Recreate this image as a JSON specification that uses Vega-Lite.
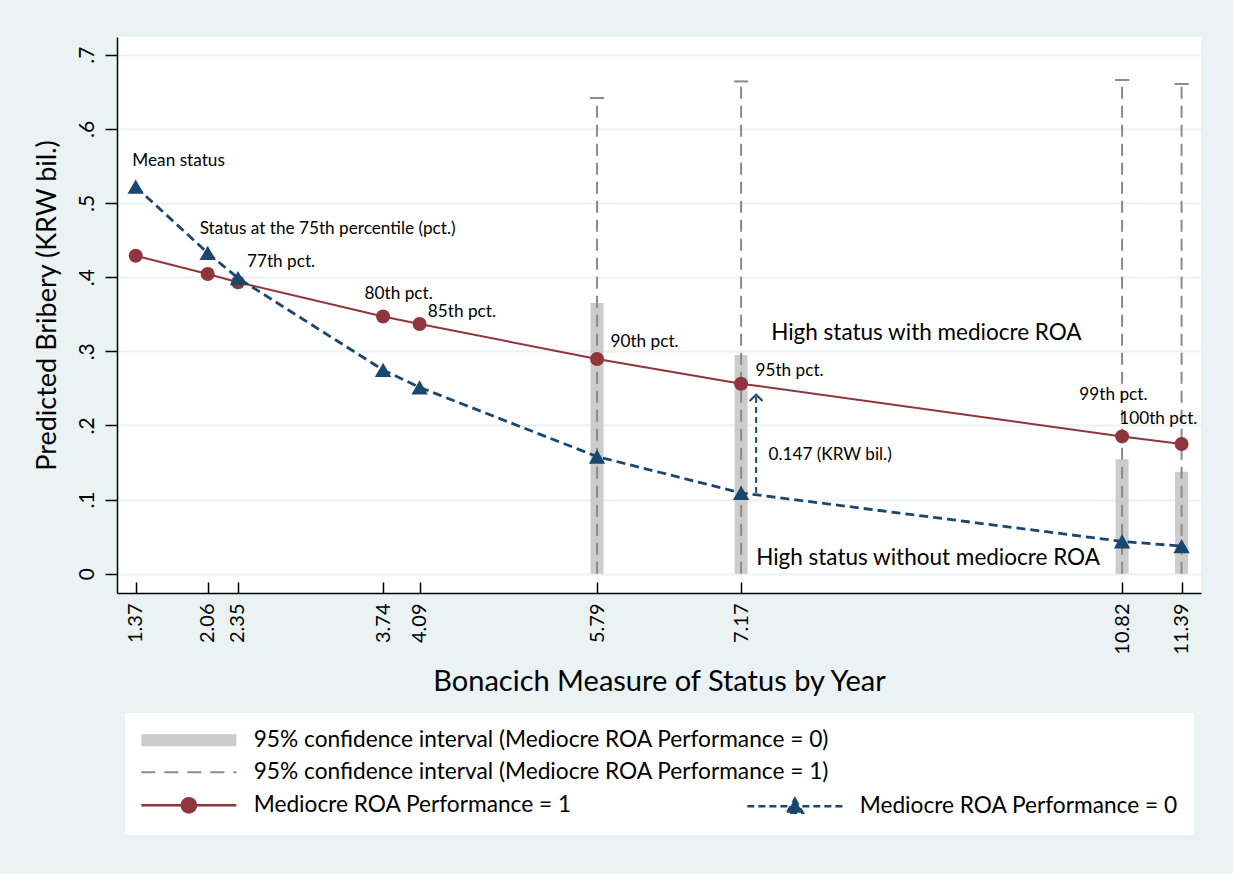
{
  "$schema": "https://vega.github.io/schema/vega-lite/v6.json",
  "width": 1084,
  "height": 556,
  "autosize": {"type": "none"},
  "padding": {"left": 117, "top": 37, "right": 32, "bottom": 281},
  "background": "#EAF2F3",
  "config": {
    "view": {"fill": "white", "stroke": null},
    "font": "Lato",
    "axis": {"labelFont": "Lato", "titleFont": "Lato", "labelColor": "black", "titleColor": "black", "titleFontWeight": "normal"},
    "text": {"font": "Lato"}
  },
  "datasets": {
    "pts": [
      {"x": 1.37, "m1": 0.4289, "m0": 0.522},
      {"x": 2.06, "m1": 0.4042, "m0": 0.4326},
      {"x": 2.35, "m1": 0.393, "m0": 0.3988},
      {"x": 3.74, "m1": 0.347, "m0": 0.2748},
      {"x": 4.09, "m1": 0.3368, "m0": 0.2514},
      {"x": 5.79, "m1": 0.2896, "m0": 0.158},
      {"x": 7.17, "m1": 0.2563, "m0": 0.109},
      {"x": 10.82, "m1": 0.1852, "m0": 0.0436},
      {"x": 11.39, "m1": 0.175, "m0": 0.0372}
    ],
    "ci": [
      {"x": 5.79, "lo0": 0, "hi0": 0.3651, "lo1": 0, "hi1": 0.6416},
      {"x": 7.17, "lo0": 0, "hi0": 0.295, "lo1": 0, "hi1": 0.664},
      {"x": 10.82, "lo0": 0, "hi0": 0.1543, "lo1": 0, "hi1": 0.6659},
      {"x": 11.39, "lo0": 0, "hi0": 0.1376, "lo1": 0, "hi1": 0.6605}
    ],
    "arrow": [
      {"x": 7.314, "y0": 0.109, "y1": 0.2414}
    ],
    "labels": [
      {"x": 1.338, "y": 0.557, "text": "Mean status", "kind": "small"},
      {"x": 1.983, "y": 0.4645, "text": "Status at the 75th percentile (pct.)", "kind": "small"},
      {"x": 2.436, "y": 0.4208, "text": "77th pct.", "kind": "small"},
      {"x": 3.563, "y": 0.3773, "text": "80th pct.", "kind": "small"},
      {"x": 4.169, "y": 0.3526, "text": "85th pct.", "kind": "small"},
      {"x": 5.919, "y": 0.3125, "text": "90th pct.", "kind": "small"},
      {"x": 7.308, "y": 0.2738, "text": "95th pct.", "kind": "small"},
      {"x": 10.41, "y": 0.241, "text": "99th pct.", "kind": "small"},
      {"x": 10.793, "y": 0.2087, "text": "100th pct.", "kind": "small"},
      {"x": 7.432, "y": 0.1601, "text": "0.147 (KRW bil.)", "kind": "small"},
      {"x": 7.458, "y": 0.3247, "text": "High status with mediocre ROA", "kind": "large"},
      {"x": 7.314, "y": 0.0212, "text": "High status without mediocre ROA", "kind": "large"}
    ]
  },
  "layer": [
    {
      "data": {"name": "ci"},
      "mark": {"type": "rule", "strokeWidth": 13, "strokeCap": "butt"},
      "encoding": {
        "x": {
          "field": "x", "type": "quantitative",
          "scale": {"domain": [1.191, 11.576], "nice": false, "zero": false},
          "title": "Bonacich Measure of Status by Year",
          "axis": {
            "values": [1.37, 2.06, 2.35, 3.74, 4.09, 5.79, 7.17, 10.82, 11.39],
            "labelExpr": "format(datum.value, '.2f')",
            "labelAngle": 270, "labelAlign": "right", "labelBaseline": "middle",
            "labelFontSize": 20, "labelPadding": 21,
            "tickSize": -11, "tickColor": "black", "tickWidth": 1.5,
            "domainColor": "black", "domainWidth": 1.5, "grid": false,
            "titleFontSize": 29, "titleY": 97, "titleBaseline": "alphabetic"
          }
        },
        "y": {
          "field": "lo0", "type": "quantitative",
          "scale": {"domain": [-0.02603, 0.7239], "nice": false, "zero": false},
          "title": "Predicted Bribery (KRW bil.)",
          "axis": {
            "values": [0, 0.1, 0.2, 0.3, 0.4, 0.5, 0.6, 0.7],
            "labelExpr": "datum.value == 0 ? '0' : replace(format(datum.value, '.1f'), '0.', '.')",
            "labelAngle": 270, "labelAlign": "center", "labelBaseline": "alphabetic",
            "labelFontSize": 21, "labelPadding": 12,
            "tickSize": 12, "tickColor": "black", "tickWidth": 1.5,
            "domainColor": "black", "domainWidth": 1.5,
            "grid": true, "gridColor": "#EAF2F3", "gridWidth": 2,
            "titleFontSize": 27, "titleAngle": 270, "titleX": -62, "titleY": 268,
            "titleBaseline": "alphabetic", "titleAlign": "center"
          }
        },
        "y2": {"field": "hi0"},
        "color": {
          "datum": "ci0", "type": "nominal",
          "scale": {
            "domain": ["ci0", "b1", "ci1", "b2", "m1", "m0"],
            "range": ["#cccccc", "#ffffff", "#8a8a8a", "#ffffff", "#90353B", "#1A476F"]
          },
          "legend": {
            "orient": "none", "legendX": 8, "legendY": 676, "direction": "horizontal",
            "columns": 2, "gridAlign": "none", "columnPadding": -88, "rowPadding": 8,
            "padding": 16, "fillColor": "white", "title": null,
            "symbolSize": 400, "symbolStrokeWidth": 2, "symbolOffset": 0,
            "labelOffset": 90, "labelFont": "Lato", "labelFontSize": 22.7, "labelColor": "black", "labelLimit": 1000,
            "labelExpr": "datum.value == 'ci0' ? '95% confidence interval (Mediocre ROA Performance = 0)' : datum.value == 'ci1' ? '95% confidence interval (Mediocre ROA Performance = 1)' : datum.value == 'm1' ? 'Mediocre ROA Performance = 1' : datum.value == 'm0' ? 'Mediocre ROA Performance = 0' : ''",
            "encode": {
              "symbols": {
                "update": {
                  "shape": {"signal": "datum.value == 'ci0' ? 'M-1.1,-0.6H8.4V0.6H-1.1Z' : datum.value == 'ci1' ? 'M-1.1,0H8.4' : datum.value == 'm1' ? 'M-1.1,0H8.4M4.37,0A0.72,0.72,0,1,1,2.93,0A0.72,0.72,0,1,1,4.37,0Z' : datum.value == 'm0' ? 'M-1.1,0H8.4M3.65,-0.75L4.45,0.65L2.85,0.65Z' : 'M0,0H0.01V0.01H0Z'"},
                  "fill": {"signal": "datum.value == 'ci0' ? '#cccccc' : datum.value == 'm1' ? '#90353B' : datum.value == 'm0' ? '#1A476F' : 'transparent'"},
                  "stroke": {"signal": "datum.value == 'ci1' ? '#8a8a8a' : datum.value == 'm1' ? '#90353B' : datum.value == 'm0' ? '#1A476F' : 'transparent'"},
                  "strokeDash": {"signal": "datum.value == 'ci1' ? [14, 9] : datum.value == 'm0' ? [7, 4] : []"},
                  "strokeWidth": {"signal": "datum.value == 'ci1' ? 2 : datum.value == 'm1' ? 2.5 : datum.value == 'm0' ? 2.5 : 0"},
                  "opacity": {"value": 1}
                }
              }
            }
          }
        }
      }
    },
    {
      "data": {"name": "ci"},
      "mark": {"type": "rule", "strokeWidth": 2, "strokeDash": [12, 7]},
      "encoding": {
        "x": {"field": "x", "type": "quantitative"},
        "y": {"field": "lo1", "type": "quantitative"},
        "y2": {"field": "hi1"},
        "color": {"datum": "ci1", "type": "nominal"}
      }
    },
    {
      "data": {"name": "ci"},
      "mark": {"type": "tick", "orient": "horizontal", "size": 14, "thickness": 2, "color": "#8a8a8a", "opacity": 1},
      "encoding": {
        "x": {"field": "x", "type": "quantitative"},
        "y": {"field": "hi1", "type": "quantitative"}
      }
    },
    {
      "data": {"name": "pts"},
      "mark": {"type": "line", "strokeWidth": 2},
      "encoding": {
        "x": {"field": "x", "type": "quantitative"},
        "y": {"field": "m1", "type": "quantitative"},
        "color": {"datum": "m1", "type": "nominal"}
      }
    },
    {
      "data": {"name": "pts"},
      "mark": {"type": "circle", "size": 196, "opacity": 1},
      "encoding": {
        "x": {"field": "x", "type": "quantitative"},
        "y": {"field": "m1", "type": "quantitative"},
        "color": {"datum": "m1", "type": "nominal"}
      }
    },
    {
      "data": {"name": "pts"},
      "mark": {"type": "line", "strokeWidth": 2.8, "strokeDash": [9, 5]},
      "encoding": {
        "x": {"field": "x", "type": "quantitative"},
        "y": {"field": "m0", "type": "quantitative"},
        "color": {"datum": "m0", "type": "nominal"}
      }
    },
    {
      "data": {"name": "pts"},
      "mark": {"type": "point", "shape": "triangle-up", "filled": true, "size": 270, "opacity": 1},
      "encoding": {
        "x": {"field": "x", "type": "quantitative"},
        "y": {"field": "m0", "type": "quantitative"},
        "color": {"datum": "m0", "type": "nominal"}
      }
    },
    {
      "data": {"name": "arrow"},
      "mark": {"type": "rule", "strokeWidth": 2, "strokeDash": [6, 4], "color": "#1A476F"},
      "encoding": {
        "x": {"field": "x", "type": "quantitative"},
        "y": {"field": "y0", "type": "quantitative"},
        "y2": {"field": "y1"}
      }
    },
    {
      "data": {"name": "arrow"},
      "mark": {"type": "point", "shape": "M-1,0.95L0,0L1,0.95", "filled": false, "size": 169, "strokeWidth": 2, "color": "#1A476F", "opacity": 1},
      "encoding": {
        "x": {"field": "x", "type": "quantitative"},
        "y": {"field": "y1", "type": "quantitative"}
      }
    },
    {
      "data": {"name": "labels"},
      "transform": [{"filter": "datum.kind == 'small'"}],
      "mark": {"type": "text", "align": "left", "baseline": "middle", "fontSize": 17.2, "color": "black"},
      "encoding": {
        "x": {"field": "x", "type": "quantitative"},
        "y": {"field": "y", "type": "quantitative"},
        "text": {"field": "text"}
      }
    },
    {
      "data": {"name": "labels"},
      "transform": [{"filter": "datum.kind == 'large'"}],
      "mark": {"type": "text", "align": "left", "baseline": "middle", "fontSize": 22.5, "color": "black"},
      "encoding": {
        "x": {"field": "x", "type": "quantitative"},
        "y": {"field": "y", "type": "quantitative"},
        "text": {"field": "text"}
      }
    }
  ]
}
